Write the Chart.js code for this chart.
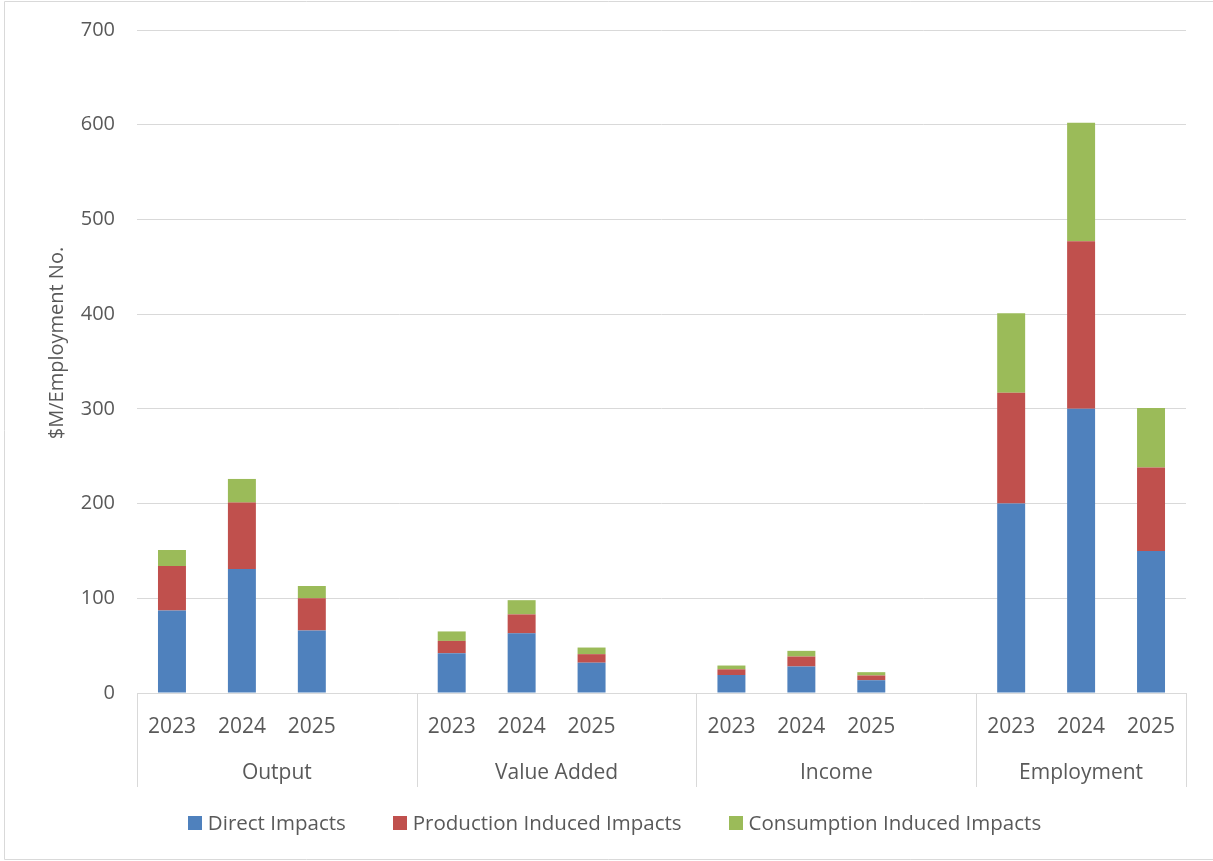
<!DOCTYPE html>
<html>
<head>
<meta charset="utf-8">
<script src="https://cdn.jsdelivr.net/npm/chart.js@4.4.1/dist/chart.umd.min.js"></script>
<style>
  html, body { margin: 0; padding: 0; background: #ffffff; }
  #wrap { position: relative; width: 1213px; height: 861px; }
</style>
</head>
<body>
<div id="wrap"><canvas id="impactChart" width="1213" height="861"></canvas></div>
<script>
// Category slots: three years per measure, with a blank spacer slot between measures
const categories = ['2023', '2024', '2025', '',
                    '2023', '2024', '2025', '',
                    '2023', '2024', '2025', '',
                    '2023', '2024', '2025'];
const groupNames = ['Output', 'Value Added', 'Income', 'Employment'];
const groupSizes = [4, 4, 4, 3];

const seriesNames = ['Direct Impacts', 'Production Induced Impacts', 'Consumption Induced Impacts'];
const directImpacts      = [87, 131, 66, null, 42, 63, 32, null, 19, 28, 13.5, null, 200, 300, 150];
const productionInduced  = [47, 70, 34, null, 13, 20, 9, null, 6, 10.5, 5, null, 117, 177, 88];
const consumptionInduced = [17, 25, 13, null, 10, 15, 7, null, 4, 6, 3.5, null, 84, 125, 63];

const yMin = 0;
const yMax = 700;
const yStep = 100;
const yTitle = '$M/Employment No.';

const seriesColors = ['#4F81BD', '#C0504D', '#9BBB59'];
const textColor = '#595959';
const lineColor = '#D9D9D9';
const fontFamily = '"Open Sans", "DejaVu Sans", sans-serif';

// Draws the two-level category axis, the axis title, the legend and the outer frame
const excelDecor = {
  id: 'excelDecor',
  afterDraw(chart) {
    const { ctx, chartArea } = chart;
    const x = chart.scales.x;
    const slot = x.getPixelForValue(1) - x.getPixelForValue(0);
    const base = chartArea.bottom;

    ctx.save();

    // group separators
    const edges = [x.getPixelForValue(0) - slot / 2];
    let idx = 0;
    groupSizes.forEach(n => { idx += n; edges.push(x.getPixelForValue(idx - 1) + slot / 2); });
    ctx.strokeStyle = lineColor;
    ctx.lineWidth = 1;
    edges.forEach(px => {
      const xx = Math.round(px) + 0.5;
      ctx.beginPath();
      ctx.moveTo(xx, base);
      ctx.lineTo(xx, base + 94);
      ctx.stroke();
    });

    // year labels and group labels
    ctx.fillStyle = textColor;
    ctx.textAlign = 'center';
    ctx.textBaseline = 'alphabetic';
    ctx.font = '21px ' + fontFamily;
    categories.forEach((c, i) => {
      if (c) ctx.fillText(c, x.getPixelForValue(i), base + 40);
    });
    groupNames.forEach((g, k) => {
      ctx.fillText(g, (edges[k] + edges[k + 1]) / 2, base + 86);
    });

    // y axis title
    ctx.save();
    ctx.translate(63, 343);
    ctx.rotate(-Math.PI / 2);
    ctx.font = '20px ' + fontFamily;
    ctx.textAlign = 'center';
    ctx.fillText(yTitle, 0, 0);
    ctx.restore();

    // legend
    ctx.font = '20.5px ' + fontFamily;
    ctx.textAlign = 'left';
    const box = 14, gapText = 6, gapItem = 47;
    const widths = seriesNames.map(n => box + gapText + ctx.measureText(n).width);
    const total = widths.reduce((a, b) => a + b, 0) + gapItem * (seriesNames.length - 1);
    let lx = chart.width / 2 + 8 - total / 2;
    const legendBaseline = 830;
    seriesNames.forEach((n, i) => {
      ctx.fillStyle = seriesColors[i];
      ctx.fillRect(Math.round(lx), legendBaseline - 14, box, box);
      ctx.fillStyle = textColor;
      ctx.fillText(n, lx + box + gapText, legendBaseline);
      lx += widths[i] + gapItem;
    });

    // outer frame
    ctx.strokeStyle = lineColor;
    ctx.lineWidth = 1;
    ctx.beginPath();
    ctx.moveTo(1213, 1.5);
    ctx.lineTo(4.5, 1.5);
    ctx.lineTo(4.5, 859.5);
    ctx.lineTo(1213, 859.5);
    ctx.stroke();

    ctx.restore();
  }
};

new Chart(document.getElementById('impactChart'), {
  type: 'bar',
  data: {
    labels: categories,
    datasets: [
      { label: seriesNames[0], data: directImpacts, backgroundColor: seriesColors[0] },
      { label: seriesNames[1], data: productionInduced, backgroundColor: seriesColors[1] },
      { label: seriesNames[2], data: consumptionInduced, backgroundColor: seriesColors[2] }
    ]
  },
  options: {
    responsive: false,
    animation: false,
    devicePixelRatio: 1,
    layout: { padding: { top: 30, right: 27, left: 0, bottom: 0 } },
    datasets: { bar: { categoryPercentage: 1, barPercentage: 0.4, borderWidth: 0 } },
    plugins: {
      legend: { display: false },
      tooltip: { enabled: false }
    },
    scales: {
      x: {
        stacked: true,
        grid: { display: false },
        border: { display: true, color: lineColor, width: 1 },
        ticks: { display: false },
        afterFit(scale) { scale.height = 168; }
      },
      y: {
        stacked: true,
        min: yMin,
        max: yMax,
        ticks: { stepSize: yStep, color: textColor, font: { family: fontFamily, size: 20 }, padding: 22 },
        grid: { color: lineColor, drawTicks: false },
        border: { display: false },
        afterFit(scale) {
          scale.width = 137;
          // only half a label is needed above the top gridline
          scale.paddingTop = 12;
          scale.paddingBottom = 12;
        }
      }
    }
  },
  plugins: [excelDecor]
});
</script>
</body>
</html>
